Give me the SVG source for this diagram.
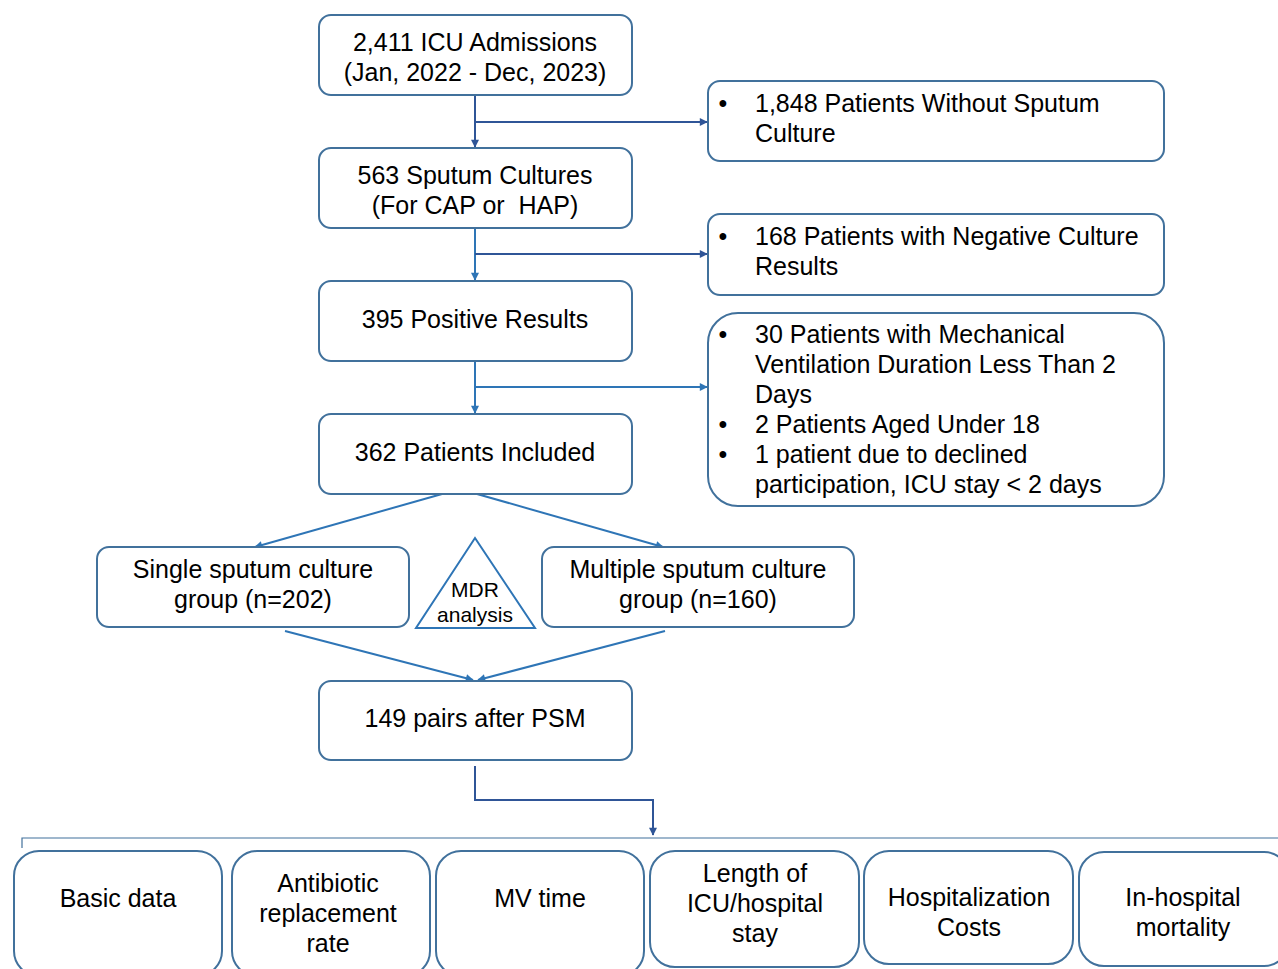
<svg xmlns="http://www.w3.org/2000/svg" width="1278" height="969" viewBox="0 0 1278 969">
<defs>
<marker id="ab" viewBox="0 0 10 10" refX="9" refY="5" markerWidth="9" markerHeight="8" orient="auto" markerUnits="userSpaceOnUse"><path d="M0,0 L10,5 L0,10 z" fill="#2e75b6"/></marker>
<marker id="an" viewBox="0 0 10 10" refX="9" refY="5" markerWidth="9" markerHeight="8" orient="auto" markerUnits="userSpaceOnUse"><path d="M0,0 L10,5 L0,10 z" fill="#2f5597"/></marker>
<style>
.box{fill:#fff;stroke:#41719c;stroke-width:2}
.t{font-family:"Liberation Sans",Arial,sans-serif;font-size:25px;fill:#000}
.c{text-anchor:middle}
.s{font-size:21px}
.lb{fill:none;stroke:#2e75b6;stroke-width:2}
.ln{fill:none;stroke:#2f5597;stroke-width:2}
</style>
</defs>
<rect width="1278" height="969" fill="#fff"/>
<g id="connectors">
<path class="ln" d="M475,95 V147" marker-end="url(#an)"/>
<path class="ln" d="M475,122 H707" marker-end="url(#an)"/>
<path class="lb" d="M475,228 V280" marker-end="url(#ab)"/>
<path class="ln" d="M475,254 H707" marker-end="url(#an)"/>
<path class="lb" d="M475,361 V413" marker-end="url(#ab)"/>
<path class="lb" d="M475,387 H707" marker-end="url(#ab)"/>
<path class="lb" d="M442,494 L255,547" marker-end="url(#ab)"/>
<path class="lb" d="M477,494 L663,547" marker-end="url(#ab)"/>
<path class="lb" d="M285,631 L473,680" marker-end="url(#ab)"/>
<path class="lb" d="M665,631 L478,680" marker-end="url(#ab)"/>
<path class="ln" stroke-width="1.5" d="M475,766 V800 H653 V835" marker-end="url(#an)"/>
<path fill="none" stroke="#41719c" stroke-width="1.2" d="M22,848 V838 H1278"/>
</g>
<g id="n1"><rect class="box" x="319" y="15" width="313" height="80" rx="12"/><text class="t c" x="475" y="51">2,411 ICU Admissions</text><text class="t c" x="475" y="81">(Jan, 2022 - Dec, 2023)</text></g>
<g id="n2"><rect class="box" x="319" y="148" width="313" height="80" rx="12"/><text class="t c" x="475" y="184">563 Sputum Cultures</text><text class="t c" x="475" y="214" xml:space="preserve">(For CAP or  HAP)</text></g>
<g id="n3"><rect class="box" x="319" y="281" width="313" height="80" rx="12"/><text class="t c" x="475" y="328">395 Positive Results</text></g>
<g id="n4"><rect class="box" x="319" y="414" width="313" height="80" rx="12"/><text class="t c" x="475" y="461">362 Patients Included</text></g>
<g id="ex1"><rect class="box" x="708" y="81" width="456" height="80" rx="12"/><text class="t c" x="723" y="112">•</text><text class="t" x="755" y="112">1,848 Patients Without Sputum</text><text class="t" x="755" y="142">Culture</text></g>
<g id="ex2"><rect class="box" x="708" y="214" width="456" height="81" rx="12"/><text class="t c" x="723" y="245">•</text><text class="t" x="755" y="245">168 Patients with Negative Culture</text><text class="t" x="755" y="275">Results</text></g>
<g id="ex3"><rect class="box" x="708" y="313" width="456" height="193" rx="30"/>
<text class="t c" x="723" y="343">•</text><text class="t" x="755" y="343">30 Patients with Mechanical</text>
<text class="t" x="755" y="373">Ventilation Duration Less Than 2</text>
<text class="t" x="755" y="403">Days</text>
<text class="t c" x="723" y="433">•</text><text class="t" x="755" y="433">2 Patients Aged Under 18</text>
<text class="t c" x="723" y="463">•</text><text class="t" x="755" y="463">1 patient due to declined</text>
<text class="t" x="755" y="493">participation, ICU stay &lt; 2 days</text></g>
<g id="single"><rect class="box" x="97" y="547" width="312" height="80" rx="12"/><text class="t c" x="253" y="578">Single sputum culture</text><text class="t c" x="253" y="608">group (n=202)</text></g>
<g id="mdr"><path d="M475,538 L535,628 H416 Z" fill="#fff" stroke="#2e75b6" stroke-width="2"/><text class="t c s" x="475" y="597">MDR</text><text class="t c s" x="475" y="622">analysis</text></g>
<g id="multiple"><rect class="box" x="542" y="547" width="312" height="80" rx="12"/><text class="t c" x="698" y="578">Multiple sputum culture</text><text class="t c" x="698" y="608">group (n=160)</text></g>
<g id="psm"><rect class="box" x="319" y="681" width="313" height="79" rx="12"/><text class="t c" x="475" y="727">149 pairs after PSM</text></g>
<g id="o1"><rect class="box" x="14" y="851" width="208" height="125" rx="25"/><text class="t c" x="118" y="907">Basic data</text></g>
<g id="o2"><rect class="box" x="232" y="851" width="198" height="125" rx="25"/><text class="t c" x="328" y="892">Antibiotic</text><text class="t c" x="328" y="922">replacement</text><text class="t c" x="328" y="952">rate</text></g>
<g id="o3"><rect class="box" x="436" y="851" width="208" height="125" rx="25"/><text class="t c" x="540" y="907">MV time</text></g>
<g id="o4"><rect class="box" x="650" y="851" width="209" height="116" rx="25"/><text class="t c" x="755" y="882">Length of</text><text class="t c" x="755" y="912">ICU/hospital</text><text class="t c" x="755" y="942">stay</text></g>
<g id="o5"><rect class="box" x="864" y="851" width="209" height="113" rx="25"/><text class="t c" x="969" y="906">Hospitalization</text><text class="t c" x="969" y="936">Costs</text></g>
<g id="o6"><rect class="box" x="1079" y="852" width="210" height="114" rx="25"/><text class="t c" x="1183" y="906">In-hospital</text><text class="t c" x="1183" y="936">mortality</text></g>
</svg>
